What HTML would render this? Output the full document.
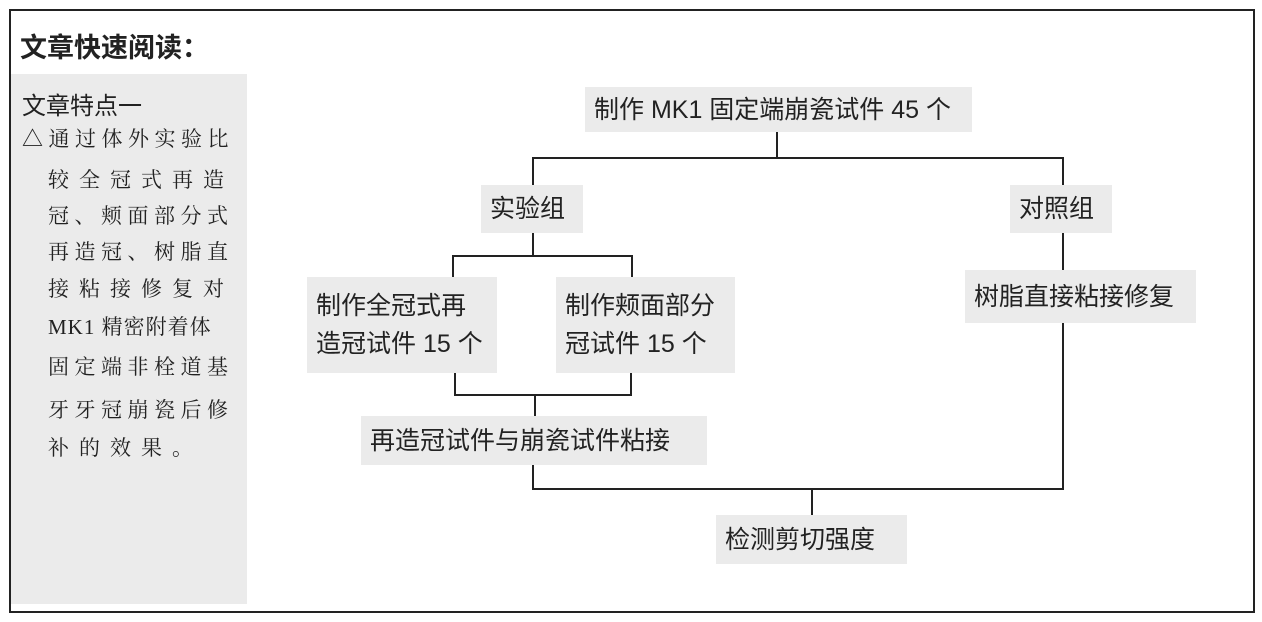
<!DOCTYPE html>
<html><head><meta charset="utf-8"><style>
body{margin:0;width:1262px;height:622px;background:#fff;position:relative;overflow:hidden;font-family:"Liberation Sans","Noto Sans CJK SC",sans-serif;color:#222}
.a{position:absolute}
.b{position:absolute;background:#ebebeb;font-size:25px;line-height:30px;box-sizing:border-box;padding-left:9px;display:flex;align-items:center;white-space:nowrap}
.l{position:absolute;background:#222}
.t{position:absolute;font-size:21px;white-space:nowrap;font-family:"Liberation Serif","Noto Serif CJK SC",serif;color:#222}
</style></head><body>
<div class="a" style="left:9px;top:9px;width:1242px;height:600px;border:2px solid #222"></div>
<div class="a" style="left:20px;top:26px;font-size:27px;font-weight:bold">文章快速阅读：</div>
<div class="a" style="left:11px;top:74px;width:236px;height:530px;background:#ebebeb"></div>
<div class="a" style="left:22px;top:86px;font-size:24px">文章特点一</div>
<div class="t" style="left:22px;top:123px;letter-spacing:5.5px">△通过体外实验比</div>
<div class="t" style="left:48px;top:164px;letter-spacing:10px">较全冠式再造</div>
<div class="t" style="left:48px;top:200px;letter-spacing:5.5px">冠、颊面部分式</div>
<div class="t" style="left:48px;top:236px;letter-spacing:5.5px">再造冠、树脂直</div>
<div class="t" style="left:48px;top:273px;letter-spacing:10px">接粘接修复对</div>
<div class="t" style="left:48px;top:311px;letter-spacing:1px">MK1 精密附着体</div>
<div class="t" style="left:48px;top:351px;letter-spacing:5.5px">固定端非栓道基</div>
<div class="t" style="left:48px;top:394px;letter-spacing:5.5px">牙牙冠崩瓷后修</div>
<div class="t" style="left:48px;top:432px;letter-spacing:10px">补的效果。</div>

<div class="b" style="left:585px;top:87px;width:387px;height:45px">制作 MK1 固定端崩瓷试件 45 个</div>
<div class="b" style="left:481px;top:185px;width:102px;height:48px">实验组</div>
<div class="b" style="left:1010px;top:185px;width:102px;height:48px">对照组</div>
<div class="b" style="left:965px;top:270px;width:231px;height:53px">树脂直接粘接修复</div>
<div class="b" style="left:307px;top:277px;width:190px;height:96px;line-height:38px">制作全冠式再<br>造冠试件 15 个</div>
<div class="b" style="left:556px;top:277px;width:179px;height:96px;line-height:38px">制作颊面部分<br>冠试件 15 个</div>
<div class="b" style="left:361px;top:416px;width:346px;height:49px">再造冠试件与崩瓷试件粘接</div>
<div class="b" style="left:716px;top:515px;width:191px;height:49px">检测剪切强度</div>

<div class="l" style="left:776px;top:132px;width:2px;height:26px"></div>
<div class="l" style="left:532px;top:157px;width:532px;height:2px"></div>
<div class="l" style="left:532px;top:157px;width:2px;height:28px"></div>
<div class="l" style="left:1062px;top:157px;width:2px;height:28px"></div>
<div class="l" style="left:532px;top:233px;width:2px;height:23px"></div>
<div class="l" style="left:452px;top:255px;width:181px;height:2px"></div>
<div class="l" style="left:452px;top:255px;width:2px;height:22px"></div>
<div class="l" style="left:631px;top:255px;width:2px;height:22px"></div>
<div class="l" style="left:454px;top:373px;width:2px;height:22px"></div>
<div class="l" style="left:630px;top:373px;width:2px;height:22px"></div>
<div class="l" style="left:454px;top:394px;width:178px;height:2px"></div>
<div class="l" style="left:534px;top:394px;width:2px;height:22px"></div>
<div class="l" style="left:1062px;top:233px;width:2px;height:37px"></div>
<div class="l" style="left:1062px;top:323px;width:2px;height:167px"></div>
<div class="l" style="left:532px;top:465px;width:2px;height:24px"></div>
<div class="l" style="left:532px;top:488px;width:532px;height:2px"></div>
<div class="l" style="left:811px;top:488px;width:2px;height:27px"></div>
</body></html>
